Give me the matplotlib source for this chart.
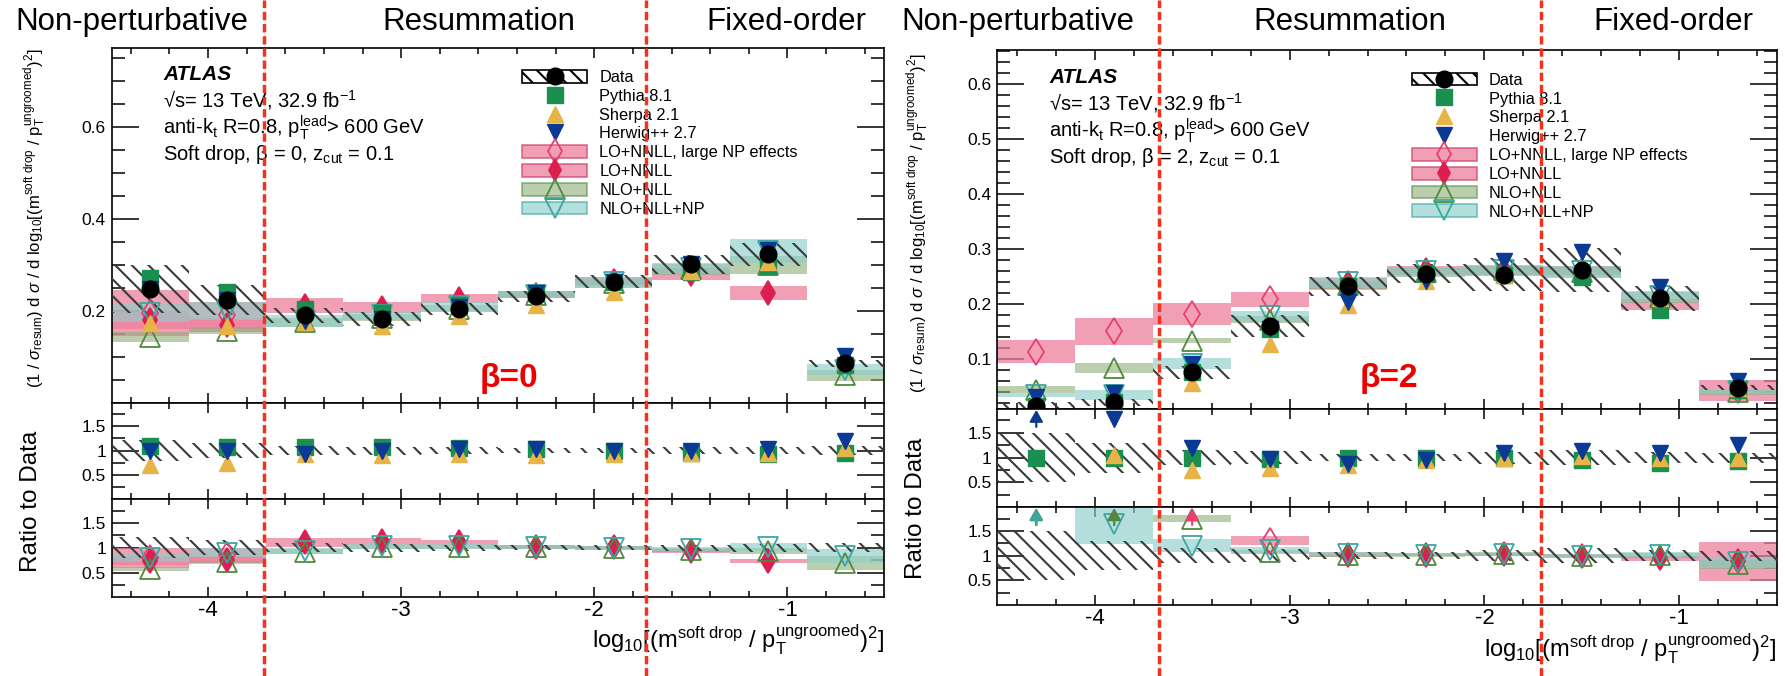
import numpy as np
import matplotlib
matplotlib.use('Agg')
import matplotlib.pyplot as plt
import matplotlib.patches as mpatches
from matplotlib.lines import Line2D
from matplotlib.ticker import MultipleLocator, FixedLocator, NullFormatter, FuncFormatter
from matplotlib.transforms import blended_transform_factory

plt.rcParams['font.family'] = ['Liberation Sans', 'DejaVu Sans']
plt.rcParams['mathtext.fontset'] = 'custom'
plt.rcParams['mathtext.rm'] = 'Liberation Sans'
plt.rcParams['mathtext.it'] = 'Liberation Sans:italic'
plt.rcParams['mathtext.bf'] = 'Liberation Sans:bold'
plt.rcParams['axes.unicode_minus'] = False
plt.rcParams['hatch.linewidth'] = 1.5

nan = np.nan
# ---------------- data ----------------
bin_edges = [-4.5, -4.1, -3.7, -3.3, -2.9, -2.5, -2.1, -1.7, -1.3, -0.9, -0.5]
region_names = ['Non-perturbative', 'Resummation', 'Fixed-order']
xticks_major = [-4, -3, -2, -1]

# beta = 0
b0_bounds = [-3.71, -1.73]
b0_data = [0.247, 0.223, 0.190, 0.183, 0.203, 0.232, 0.263, 0.301, 0.323, 0.086]
b0_err = [0.052, 0.033, 0.017, 0.015, 0.013, 0.012, 0.014, 0.020, 0.025, 0.008]
b0_pythia = [0.272, 0.241, 0.203, 0.196, 0.213, 0.239, 0.263, 0.285, 0.297, 0.082]
b0_sherpa = [0.173, 0.167, 0.175, 0.168, 0.189, 0.213, 0.242, 0.286, 0.307, 0.090]
b0_herwig = [0.247, 0.223, 0.177, 0.183, 0.209, 0.239, 0.263, 0.301, 0.333, 0.103]
b0_lonp = [0.195, 0.190, nan, nan, nan, nan, nan, nan, nan, nan]
b0_lonp_hw = [0.050, 0.030, nan, nan, nan, nan, nan, nan, nan, nan]
b0_lo = [0.180, 0.170, 0.211, 0.207, 0.226, 0.235, 0.265, 0.280, 0.238, nan]
b0_lo_hw = [0.020, 0.015, 0.016, 0.012, 0.010, 0.008, 0.008, 0.012, 0.015, nan]
b0_nll = [0.143, 0.157, 0.175, 0.185, 0.205, 0.235, 0.260, 0.290, 0.300, 0.060]
b0_nll_hw = [0.010, 0.008, 0.010, 0.008, 0.008, 0.008, 0.010, 0.012, 0.020, 0.012]
b0_np = [0.195, 0.200, 0.178, 0.190, 0.210, 0.235, 0.262, 0.292, 0.330, 0.072]
b0_np_hw = [0.020, 0.020, 0.012, 0.010, 0.010, 0.008, 0.010, 0.012, 0.025, 0.012]

# beta = 2
b2_bounds = [-3.67, -1.71]
b2_data = [0.015, 0.022, 0.0765, 0.160, 0.233, 0.256, 0.254, 0.262, 0.211, 0.0487]
b2_err = [0.0075, 0.0066, 0.012, 0.020, 0.017, 0.017, 0.030, 0.040, 0.023, 0.005]
b2_pythia = [0.015, 0.022, 0.0765, 0.155, 0.233, 0.256, 0.254, 0.249, 0.190, 0.045]
b2_sherpa = [0.031, 0.023, 0.057, 0.128, 0.198, 0.243, 0.254, 0.270, 0.211, 0.0487]
b2_herwig = [0.032, 0.039, 0.092, 0.155, 0.205, 0.243, 0.279, 0.296, 0.232, 0.061]
b2_lonp = [0.114, 0.151, 0.182, 0.209, nan, nan, nan, nan, nan, nan]
b2_lonp_hw = [0.021, 0.025, 0.020, 0.014, nan, nan, nan, nan, nan, nan]
b2_lo = [nan, nan, nan, nan, 0.238, 0.262, 0.262, 0.262, 0.200, 0.043]
b2_lo_hw = [nan, nan, nan, nan, 0.010, 0.008, 0.008, 0.008, 0.010, 0.019]
b2_nll = [0.045, 0.085, 0.134, 0.172, 0.235, 0.258, 0.262, 0.258, 0.213, 0.040]
b2_nll_hw = [0.006, 0.009, 0.005, 0.006, 0.008, 0.008, 0.010, 0.010, 0.010, 0.004]
b2_np = [0.035, 0.036, 0.092, 0.178, 0.240, 0.260, 0.262, 0.260, 0.215, 0.042]
b2_np_hw = [0.004, 0.009, 0.010, 0.010, 0.010, 0.008, 0.008, 0.010, 0.010, 0.005]

legend_labels = ['Data', 'Pythia 8.1', 'Sherpa 2.1', 'Herwig++ 2.7',
                 'LO+NNLL, large NP effects', 'LO+NNLL', 'NLO+NLL', 'NLO+NLL+NP']

# ---------------- styles ----------------
W, H = 1785, 676
HATCH = '\\\\'
HATCH_C = '#3a3a3a'
RED = '#f0321e'
C_PY, C_SH, C_HW = '#1a8f50', '#e8b448', '#0b3a94'
TH_STYLE = {
    'lonp': dict(fc='#ec7f9c', alpha=0.75, ec='#d0456e', marker='d', mfc='none', mec='#e8406e', ms=13),
    'lo':   dict(fc='#ec7f9c', alpha=0.75, ec='#d0456e', marker='d', mfc='#dc1e50', mec='#dc1e50', ms=12),
    'nll':  dict(fc='#8fae78', alpha=0.6, ec='#4f8a3e', marker='^', mfc='none', mec='#4f8a3e', ms=15),
    'np':   dict(fc='#8ecfca', alpha=0.65, ec='#3aa89e', marker='v', mfc='none', mec='#3aa89e', ms=15),
}

fig = plt.figure(figsize=(W / 100, H / 100), dpi=100)


def rect(x0, x1, ytop, ybot):
    return [x0 / W, 1 - ybot / H, (x1 - x0) / W, (ybot - ytop) / H]


def fx(x):
    return x / W


def fy(y):
    return 1 - y / H


def style_axes(ax, bottom_labels):
    ax.set_xlim(bin_edges[0], bin_edges[-1])
    ax.xaxis.set_major_locator(FixedLocator(xticks_major))
    ax.xaxis.set_minor_locator(MultipleLocator(0.2))
    ax.tick_params(which='both', direction='in', top=True, right=True)
    ax.tick_params(axis='y', which='major', length=19.5, width=1.1, labelsize=12.5, pad=4)
    ax.tick_params(axis='y', which='minor', length=9.5, width=1.1)
    ax.tick_params(axis='x', which='major', length=7.5, width=1.1, labelsize=16, pad=2)
    ax.tick_params(axis='x', which='minor', length=4, width=1.1)
    for s in ax.spines.values():
        s.set_linewidth(1.2)
    if not bottom_labels:
        ax.xaxis.set_major_formatter(NullFormatter())


def ratio_ticks(ax):
    ax.set_ylim(0.0, 1.98)
    ax.yaxis.set_major_locator(FixedLocator([0.5, 1.0, 1.5]))
    ax.yaxis.set_minor_locator(FixedLocator([0.25, 0.75, 1.25, 1.75]))
    ax.yaxis.set_major_formatter(FuncFormatter(lambda v, p: '%g' % v))


def arrow(ax, x, color, top):
    ax.annotate('', xy=(x, top - 0.02), xytext=(x, top - 0.36),
                arrowprops=dict(arrowstyle='-|>,head_length=0.7,head_width=0.4',
                                color=color, lw=1.5, shrinkA=0, shrinkB=0),
                zorder=7, annotation_clip=False)


def panel(x0, x1, ytops, main_ylim, main_major, main_minor, d):
    axm = fig.add_axes(rect(x0, x1, ytops[0], ytops[1]))
    ax1 = fig.add_axes(rect(x0, x1, ytops[1], ytops[2]))
    ax2 = fig.add_axes(rect(x0, x1, ytops[2], ytops[3]))
    for a, bl in ((axm, False), (ax1, False), (ax2, True)):
        style_axes(a, bl)
    axm.set_ylim(*main_ylim)
    axm.yaxis.set_major_locator(MultipleLocator(main_major))
    axm.yaxis.set_minor_locator(MultipleLocator(main_minor))
    axm.yaxis.set_major_formatter(FuncFormatter(lambda v, p: '%g' % v))
    ratio_ticks(ax1)
    ratio_ticks(ax2)

    edges = np.array(bin_edges)
    cen = 0.5 * (edges[:-1] + edges[1:])
    wid = edges[1:] - edges[:-1]
    data = np.array(d['data'])
    err = np.array(d['err'])
    top = 1.98

    # theory bands
    for key in ('lonp', 'lo', 'nll', 'np'):
        st = TH_STYLE[key]
        c = np.array(d[key]); hw = np.array(d[key + '_hw'])
        m = ~np.isnan(c)
        axm.bar(cen[m], 2 * hw[m], bottom=c[m] - hw[m], width=wid[m], color=st['fc'],
                alpha=st['alpha'], lw=0, zorder=2)
        ax2.bar(cen[m], 2 * hw[m] / data[m], bottom=(c[m] - hw[m]) / data[m], width=wid[m],
                color=st['fc'], alpha=st['alpha'], lw=0, zorder=2)

    # data uncertainty hatch
    axm.bar(cen, 2 * err, bottom=data - err, width=wid, fill=False, hatch=HATCH,
            edgecolor=HATCH_C, lw=0, zorder=3)
    for a in (ax1, ax2):
        a.bar(cen, 2 * err / data, bottom=1 - err / data, width=wid, fill=False, hatch=HATCH,
              edgecolor=HATCH_C, lw=0, zorder=3)

    # theory markers
    for key in ('lonp', 'lo', 'nll', 'np'):
        st = TH_STYLE[key]
        c = np.array(d[key])
        m = ~np.isnan(c)
        kw = dict(ls='none', marker=st['marker'], ms=st['ms'], mfc=st['mfc'], mec=st['mec'], mew=1.3, zorder=4)
        axm.plot(cen[m], c[m], **kw)
        r = c / data
        ok = m & (r < top)
        ax2.plot(cen[ok], r[ok], **kw)
        for i in np.where(m & (r >= top))[0]:
            arrow(ax2, cen[i], st['mec'], top)

    # MC markers
    for vals, mk, col in ((d['pythia'], 's', C_PY), (d['sherpa'], '^', C_SH), (d['herwig'], 'v', C_HW)):
        v = np.array(vals)
        kw = dict(ls='none', marker=mk, ms=12, color=col, mec=col, zorder=5)
        axm.plot(cen, v, **kw)
        r = v / data
        ok = r < top
        ax1.plot(cen[ok], r[ok], **kw)
        for i in np.where(~ok)[0]:
            arrow(ax1, cen[i], col, top)

    # data points
    axm.plot(cen, data, ls='none', marker='o', ms=12, color='black', zorder=6)

    # legend
    hd = [
        (mpatches.Patch(facecolor='white', edgecolor='black', hatch=HATCH, lw=1.2),
         Line2D([], [], ls='none', marker='o', ms=12, color='black')),
        Line2D([], [], ls='none', marker='s', ms=12, color=C_PY),
        Line2D([], [], ls='none', marker='^', ms=12, color=C_SH),
        Line2D([], [], ls='none', marker='v', ms=12, color=C_HW),
    ]
    for key in ('lonp', 'lo', 'nll', 'np'):
        st = TH_STYLE[key]
        hd.append((mpatches.Patch(facecolor=st['fc'], alpha=st['alpha'], edgecolor=st['ec'], lw=1.2),
                   Line2D([], [], ls='none', marker=st['marker'], ms=st['ms'] - 1, mfc=st['mfc'],
                          mec=st['mec'], mew=1.3)))
    axm.legend(hd, legend_labels, loc='upper left', bbox_to_anchor=(0.532, 0.937),
               frameon=False, fontsize=11.8, handlelength=3.95, handleheight=0.82,
               handletextpad=0.75, labelspacing=0.23, borderpad=0, borderaxespad=0)
    return axm, ax1, ax2


datasets = [
    dict(data=b0_data, err=b0_err, pythia=b0_pythia, sherpa=b0_sherpa, herwig=b0_herwig,
         lonp=b0_lonp, lonp_hw=b0_lonp_hw, lo=b0_lo, lo_hw=b0_lo_hw, nll=b0_nll, nll_hw=b0_nll_hw,
         np=b0_np, np_hw=b0_np_hw),
    dict(data=b2_data, err=b2_err, pythia=b2_pythia, sherpa=b2_sherpa, herwig=b2_herwig,
         lonp=b2_lonp, lonp_hw=b2_lonp_hw, lo=b2_lo, lo_hw=b2_lo_hw, nll=b2_nll, nll_hw=b2_nll_hw,
         np=b2_np, np_hw=b2_np_hw),
]

axesL = panel(111.5, 884, [47.5, 402.7, 499.3, 597.3], (0.0005, 0.772), 0.2, 0.05, datasets[0])
axesR = panel(997.3, 1776.7, [50, 409, 507.3, 605], (0.01, 0.662), 0.1, 0.02, datasets[1])

# red region boundaries spanning full figure height
for axs, bounds in ((axesL, b0_bounds), (axesR, b2_bounds)):
    tr = blended_transform_factory(axs[0].transData, fig.transFigure)
    for b in bounds:
        ln = Line2D([b, b], [0, 1], transform=tr, color=RED, lw=2.5, zorder=20)
        ln.set_dashes((2.4, 1.1))
        fig.add_artist(ln)

# region titles
TS = 22.5
for xs, in ([[132, 479, 786]], [[1018, 1350, 1673]]):
    for x, name in zip(xs, region_names):
        fig.text(fx(x), fy(30), name, ha='center', va='baseline', fontsize=TS)

# ATLAS labels
ATL_S = 14.5
labels_pos = [(163, [80, 107.5, 134, 160], '0'), (1049, [83, 110, 137, 163], '2')]
for x, ys, b in labels_pos:
    fig.text(fx(x), fy(ys[0]), 'ATLAS', fontsize=15, fontweight='bold', fontstyle='italic', va='baseline')
    fig.text(fx(x), fy(ys[1]), '√s= 13 TeV, 32.9 fb$^{\\mathrm{-1}}$', fontsize=ATL_S, va='baseline')
    fig.text(fx(x), fy(ys[2]), 'anti-k$_{\\mathrm{t}}$ R=0.8, p$_{\\mathrm{T}}^{\\mathrm{lead}}$> 600 GeV',
             fontsize=ATL_S, va='baseline')
    fig.text(fx(x), fy(ys[3]), 'Soft drop, β = %s, z$_{\\mathrm{cut}}$ = 0.1' % b, fontsize=ATL_S, va='baseline')

# beta labels
fig.text(fx(509), fy(378), 'β=0', color='#ee0000', fontsize=24, fontweight='bold', ha='center', va='center')
fig.text(fx(1389), fy(378), 'β=2', color='#ee0000', fontsize=24, fontweight='bold', ha='center', va='center')

# axis titles
ylab = (r'$(1\ /\ \sigma_{\mathrm{resum}})\ \mathrm{d}\ \sigma\ /\ \mathrm{d}\ \mathrm{log}_{10}'
        r'[(\mathrm{m}^{\mathrm{soft\ drop}}\ /\ \mathrm{p}_{\mathrm{T}}^{\mathrm{ungroomed}})^{2}]$')
xlab = (r'$\mathrm{log}_{10}[(\mathrm{m}^{\mathrm{soft\ drop}}\ /\ '
        r'\mathrm{p}_{\mathrm{T}}^{\mathrm{ungroomed}})^{2}]$')
fig.text(fx(34.5), fy(218.5), ylab, rotation=90, ha='center', va='center', fontsize=12)
fig.text(fx(917.5), fy(223.5), ylab, rotation=90, ha='center', va='center', fontsize=12)
fig.text(fx(31), fy(501), 'Ratio to Data', rotation=90, ha='center', va='center', fontsize=17.5)
fig.text(fx(916), fy(508), 'Ratio to Data', rotation=90, ha='center', va='center', fontsize=17.5)
fig.text(fx(884), fy(623), xlab, ha='right', va='top', fontsize=17)
fig.text(fx(1776.7), fy(632), xlab, ha='right', va='top', fontsize=17)

fig.savefig('out.png', dpi=100, facecolor='white')
